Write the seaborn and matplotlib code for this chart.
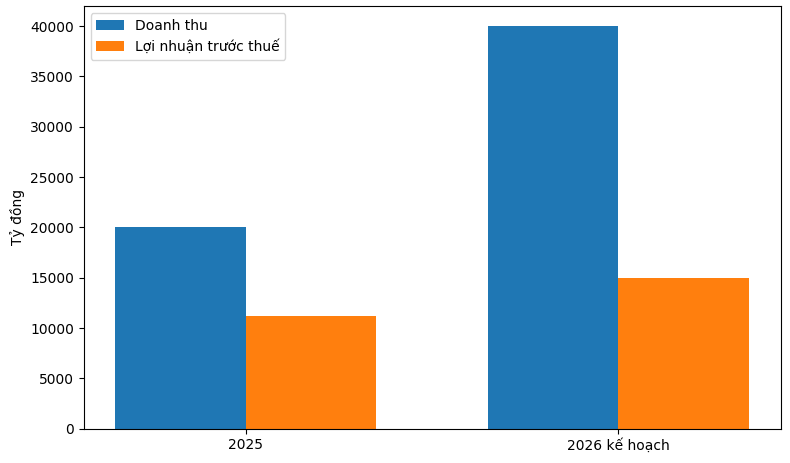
import matplotlib
matplotlib.use("Agg")
import matplotlib.pyplot as plt
import seaborn as sns
import pandas as pd

# số liệu (tỷ đồng)
years = ["2025", "2026 kế hoạch"]
doanh_thu = [20000, 40000]
loi_nhuan = [11250, 15000]

df = pd.DataFrame({
    "Năm": years * 2,
    "Giá trị": doanh_thu + loi_nhuan,
    "Chỉ tiêu": ["Doanh thu"] * 2 + ["Lợi nhuận trước thuế"] * 2,
})

fig, ax = plt.subplots(figsize=(7.9, 4.63), dpi=100)
sns.barplot(data=df, x="Năm", y="Giá trị", hue="Chỉ tiêu",
            palette=["#1f77b4", "#ff7f0e"], width=0.7, saturation=1,
            errorbar=None, ax=ax)
ax.set_xlim(-0.435, 1.435)
ax.set_ylim(0, 42000)
ax.set_yticks(range(0, 40001, 5000))
ax.set_xlabel("")
ax.set_ylabel("Tỷ đồng")
ax.legend(loc="upper left")
fig.subplots_adjust(left=0.106, right=0.988, top=0.987, bottom=0.074)
fig.savefig("out.png")
